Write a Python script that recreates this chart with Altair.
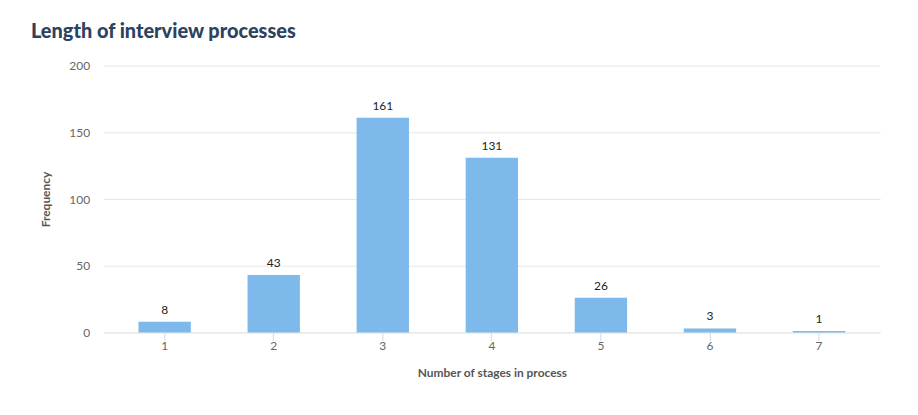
import altair as alt
import pandas as pd

stages = ["1", "2", "3", "4", "5", "6", "7"]
frequency = [8, 43, 161, 131, 26, 3, 1]

df = pd.DataFrame({"stage": stages, "freq": frequency})

FONT = "Lato"
BAR = "#7db9ea"

base = alt.Chart(df).encode(
    x=alt.X(
        "stage:N",
        sort=stages,
        title="Number of stages in process",
        scale=alt.Scale(paddingInner=0.52, paddingOuter=0.32),
        axis=alt.Axis(
            labelAngle=0,
            labelColor="#666666",
            labelFont=FONT,
            labelFontSize=12,
            labelPadding=0,
            tickColor="#ccd6eb",
            tickSize=8,
            domainColor="#e6e6e6",
            titleFont=FONT,
            titleFontSize=12,
            titleFontWeight="bold",
            titleColor="#555555",
            titlePadding=16,
        ),
    ),
    y=alt.Y(
        "freq:Q",
        title="Frequency",
        scale=alt.Scale(domain=[0, 200]),
        axis=alt.Axis(
            values=[0, 50, 100, 150, 200],
            labelColor="#666666",
            labelFont=FONT,
            labelFontSize=12,
            labelPadding=14,
            domain=False,
            ticks=False,
            gridColor="#e6e6e6",
            titleFont=FONT,
            titleFontSize=12,
            titleFontWeight="bold",
            titleColor="#555555",
            titlePadding=16,
        ),
    ),
)

bars = base.mark_bar(color=BAR)
labels = base.mark_text(dy=-12, font=FONT, fontSize=12, color="#222222").encode(
    text="freq:Q"
)

chart = (
    (bars + labels)
    .properties(
        width=780,
        height=268,
        padding={"left": 96, "top": 57, "right": 30, "bottom": 70},
        autosize=alt.AutoSizeParams(type="none"),
        title=alt.TitleParams(
            "Length of interview processes",
            anchor="start",
            frame="group",
            dx=-73,
            offset=18,
            font=FONT,
            fontSize=20,
            fontWeight=900,
            color="#2c4360",
        ),
    )
    .configure_view(stroke=None)
)

chart.save("out.html", embed_options={"renderer": "svg", "actions": False})
